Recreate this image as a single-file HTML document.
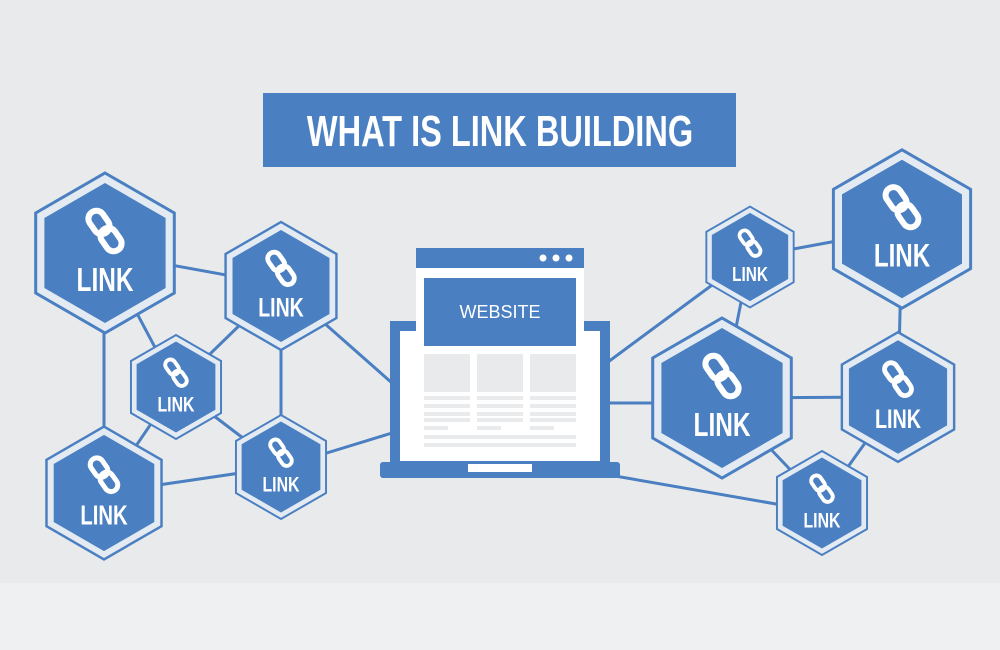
<!DOCTYPE html>
<html><head><meta charset="utf-8"><style>
html,body{margin:0;padding:0;background:#e9eaec;}
svg{display:block}
</style></head><body>
<svg width="1000" height="650" viewBox="0 0 1000 650" xmlns="http://www.w3.org/2000/svg">
<defs>
<g id="hx">
 <polygon points="0,-80 69.3,-40 69.3,40 0,80 -69.3,40 -69.3,-40" fill="#e4eaf2" stroke="#4a7fc1" stroke-width="3"/>
 <polygon points="0,-70 60.6,-35 60.6,35 0,70 -60.6,35 -60.6,-35" fill="#4a7fc1"/>
 <g transform="translate(0,-22) rotate(-35)" fill="none" stroke="#fff" stroke-width="6">
  <rect x="-8" y="-23" width="16" height="25" rx="8"/>
  <rect x="-8" y="-2" width="16" height="25" rx="8"/>
 </g>
 <text x="0" y="0" transform="translate(0,38) scale(0.74,1)" text-anchor="middle" font-family="Liberation Sans, sans-serif" font-weight="bold" font-size="33" fill="#fff">LINK</text>
</g>
</defs>
<rect x="0" y="583" width="1000" height="67" fill="#eef0f1"/>
<rect x="263" y="93" width="473" height="74" fill="#4a7fc1"/>
<text x="0" y="0" transform="translate(500,146) scale(0.74,1)" text-anchor="middle" font-family="Liberation Sans, sans-serif" font-weight="bold" font-size="44" fill="#fff">WHAT IS LINK BUILDING</text>
<g stroke="#4a7fc1" stroke-width="3" fill="none">
 <line x1="105" y1="253" x2="281" y2="285"/>
 <line x1="105" y1="253" x2="176" y2="387"/>
 <line x1="104" y1="253" x2="104" y2="493"/>
 <line x1="281" y1="285" x2="176" y2="387"/>
 <line x1="281" y1="285" x2="281" y2="467"/>
 <line x1="281" y1="285" x2="392" y2="383"/>
 <line x1="176" y1="387" x2="104" y2="493"/>
 <line x1="176" y1="387" x2="281" y2="467"/>
 <line x1="104" y1="493" x2="281" y2="467"/>
 <line x1="281" y1="467" x2="392" y2="433"/>
 <line x1="608" y1="362" x2="750" y2="257"/>
 <line x1="750" y1="257" x2="902" y2="229"/>
 <line x1="750" y1="257" x2="722" y2="398"/>
 <line x1="608" y1="403" x2="722" y2="403"/>
 <line x1="722" y1="398" x2="898" y2="397"/>
 <line x1="902" y1="229" x2="898" y2="397"/>
 <line x1="722" y1="398" x2="822" y2="503"/>
 <line x1="898" y1="397" x2="822" y2="503"/>
 <line x1="615" y1="476" x2="822" y2="512"/>
</g>
<rect x="390" y="321" width="220" height="145" fill="#4a7fc1"/>
<rect x="400" y="331" width="200" height="130" fill="#fff"/>
<rect x="380" y="462" width="240" height="16" rx="3" fill="#4a7fc1"/>
<rect x="468" y="464" width="64" height="8" fill="#fff"/>
<rect x="416" y="248" width="168" height="207" fill="#fff"/>
<rect x="416" y="248" width="168" height="20" fill="#4a7fc1"/>
<circle cx="543" cy="258" r="3.5" fill="#fff"/><circle cx="556" cy="258" r="3.5" fill="#fff"/><circle cx="569" cy="258" r="3.5" fill="#fff"/>
<rect x="424" y="278" width="152" height="68" fill="#4a7fc1"/>
<text x="500" y="318" text-anchor="middle" font-family="Liberation Sans, sans-serif" font-size="18" fill="#fff">WEBSITE</text>
<g fill="#e9eaec">
 <rect x="424" y="354" width="46" height="38"/><rect x="477" y="354" width="46" height="38"/><rect x="530" y="354" width="46" height="38"/>
 <rect x="424" y="396" width="46" height="4"/><rect x="477" y="396" width="46" height="4"/><rect x="530" y="396" width="46" height="4"/>
 <rect x="424" y="404" width="46" height="4"/><rect x="477" y="404" width="46" height="4"/><rect x="530" y="404" width="46" height="4"/>
 <rect x="424" y="412" width="46" height="4"/><rect x="477" y="412" width="46" height="4"/><rect x="530" y="412" width="46" height="4"/>
 <rect x="424" y="418" width="46" height="4"/><rect x="477" y="418" width="46" height="4"/><rect x="530" y="418" width="46" height="4"/>
 <rect x="424" y="426" width="24" height="4"/><rect x="477" y="426" width="24" height="4"/><rect x="530" y="426" width="24" height="4"/>
 <rect x="424" y="435" width="152" height="4"/><rect x="424" y="443" width="152" height="4"/>
</g>
<use href="#hx" transform="translate(105,253) scale(1)"/>
<use href="#hx" transform="translate(281,286) scale(0.8)"/>
<use href="#hx" transform="translate(176,387) scale(0.65)"/>
<use href="#hx" transform="translate(104,493) scale(0.83)"/>
<use href="#hx" transform="translate(281,467) scale(0.65)"/>
<use href="#hx" transform="translate(750,257) scale(0.63)"/>
<use href="#hx" transform="translate(902,229) scale(0.99)"/>
<use href="#hx" transform="translate(722,398) scale(1)"/>
<use href="#hx" transform="translate(898,397) scale(0.81)"/>
<use href="#hx" transform="translate(822,503) scale(0.65)"/>
</svg>
</body></html>
